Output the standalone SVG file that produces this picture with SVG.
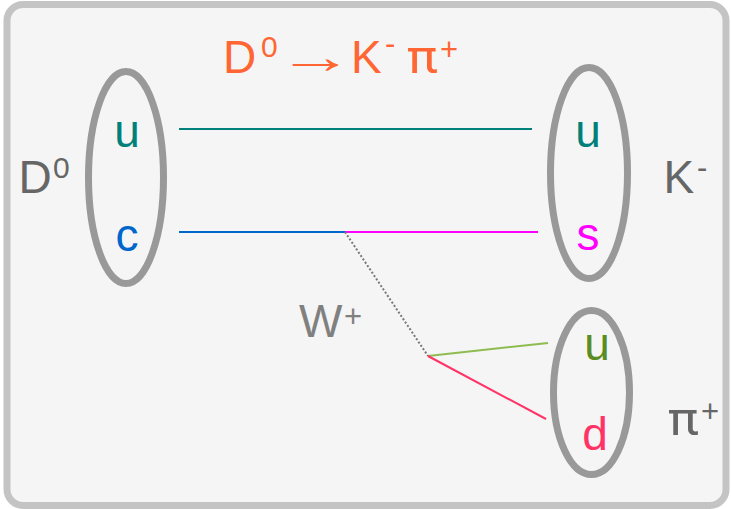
<svg xmlns="http://www.w3.org/2000/svg" width="731" height="509" viewBox="0 0 731 509">
<style>
text{font-family:"Liberation Sans",Arial,sans-serif}
.big{font-size:46px}
.sup{font-size:30px}
.sgn{font-size:31px}
.pi{font-family:Roboto,"DejaVu Sans",sans-serif;font-size:46px}
.arr{font-size:48px}
.hadron{fill:none;stroke:#999999;stroke-width:7}
.q{font-size:46px;text-anchor:middle}
.lbl{fill:#666666}
.ln{fill:none;stroke-width:2}
</style>
<rect x="7" y="4.5" width="719" height="501" rx="16" fill="#f5f5f5" stroke="#c4c4c4" stroke-width="7"/>
<g id="title">
<text class="big" x="223" y="73" fill="#ff6633">D</text>
<text class="sup" x="261" y="57" fill="#ff6633">0</text>
<text class="arr" transform="translate(277,73) scale(1.6,1)" fill="#ff6633">→</text>
<text class="big" x="351" y="73" fill="#ff6633">K</text>
<text class="sgn" x="385" y="54" fill="#ff6633">-</text>
<text class="pi" transform="translate(407,73) scale(1.12,1)" fill="#ff6633">π</text>
<text class="sgn" x="440" y="60" fill="#ff6633">+</text>
</g>
<g id="connectors">
<line class="ln" x1="179" y1="129" x2="532" y2="129" stroke="#00807a"/>
<line class="ln" x1="179" y1="232" x2="345" y2="232" stroke="#0066cc"/>
<line class="ln" x1="345" y1="232" x2="538" y2="232" stroke="#ff00ff"/>
<line class="ln" x1="345" y1="232" x2="428" y2="356" stroke="#777777" stroke-dasharray="2,2"/>
<line class="ln" x1="428" y1="356" x2="548" y2="343" stroke="#8fbc50"/>
<line class="ln" x1="428" y1="356" x2="546" y2="419" stroke="#ff3366"/>
</g>
<g id="D0">
<ellipse class="hadron" cx="126" cy="177.5" rx="37.5" ry="106"/>
<text class="q" x="127" y="147" fill="#00807a">u</text>
<text class="q" x="127" y="251" fill="#0066cc">c</text>
<text class="big lbl" x="18.5" y="193">D</text>
<text class="sup lbl" x="53" y="178">0</text>
</g>
<g id="Kminus">
<ellipse class="hadron" cx="589" cy="173" rx="38.5" ry="105.5"/>
<text class="q" x="588" y="147" fill="#00807a">u</text>
<text class="q" x="588" y="250" fill="#ff00ff">s</text>
<text class="big lbl" x="663.5" y="193">K</text>
<text class="sgn lbl" x="697" y="178">-</text>
</g>
<g id="piplus">
<ellipse class="hadron" cx="591.5" cy="392.5" rx="38" ry="82"/>
<text class="q" x="597" y="360" fill="#5b8c22">u</text>
<text class="q" x="595" y="450" fill="#ff3366">d</text>
<text class="pi lbl" transform="translate(668,435) scale(1.12,1)">π</text>
<text class="sgn lbl" x="701" y="422">+</text>
</g>
<g id="W">
<text class="big" x="299" y="337" fill="#808080">W</text>
<text class="sgn" x="344" y="327" fill="#808080">+</text>
</g>
</svg>
